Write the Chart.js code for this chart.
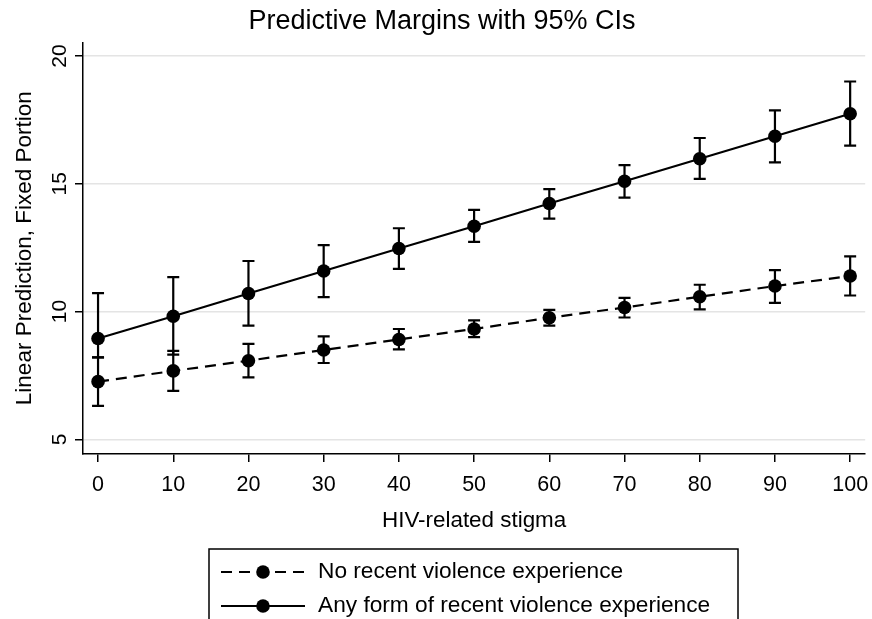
<!DOCTYPE html>
<html>
<head>
<meta charset="utf-8">
<script src="https://cdn.jsdelivr.net/npm/chart.js@4.4.1/dist/chart.umd.min.js"></script>
<style>
  html, body { margin: 0; padding: 0; background: #fff; }
</style>
</head>
<body>
<canvas id="marginsChart" width="872" height="619"></canvas>
<script>
const stigma = [0, 10, 20, 30, 40, 50, 60, 70, 80, 90, 100];
const xTicks = [0, 10, 20, 30, 40, 50, 60, 70, 80, 90, 100];
const yTicks = [5, 10, 15, 20];

// no recent violence
const noViolence   = [7.26, 7.68, 8.08, 8.50, 8.91, 9.32, 9.76, 10.16, 10.58, 11.00, 11.39];
const noViolenceLo = [6.31, 6.90, 7.43, 7.99, 8.52, 9.00, 9.45, 9.77, 10.09, 10.34, 10.63];
const noViolenceHi = [8.21, 8.46, 8.74, 9.03, 9.32, 9.66, 10.07, 10.54, 11.05, 11.62, 12.16];

// any form of recent violence
const anyViolence   = [8.95, 9.82, 10.71, 11.59, 12.47, 13.34, 14.23, 15.10, 15.98, 16.86, 17.74];
const anyViolenceLo = [8.21, 8.32, 9.45, 10.57, 11.67, 12.73, 13.64, 14.46, 15.19, 15.84, 16.49];
const anyViolenceHi = [10.72, 11.35, 11.98, 12.60, 13.26, 13.98, 14.79, 15.73, 16.79, 17.87, 19.00];

const FONT = "'Liberation Sans', Arial, Helvetica, sans-serif";

const toPoints = (ys) => stigma.map((x, i) => ({ x: x, y: ys[i] }));

// error bars with caps, drawn through the scales
const errorBars = {
    id: 'errorBars',
    afterDatasetsDraw(chart) {
        const { ctx, scales: { x, y } } = chart;
        ctx.save();
        ctx.strokeStyle = '#000';
        ctx.lineWidth = 2.2;
        chart.data.datasets.forEach(ds => {
            stigma.forEach((v, i) => {
                const px = x.getPixelForValue(v);
                const lo = y.getPixelForValue(ds.errLo[i]);
                const hi = y.getPixelForValue(ds.errHi[i]);
                ctx.beginPath();
                ctx.moveTo(px, lo); ctx.lineTo(px, hi);
                ctx.moveTo(px - 6, lo); ctx.lineTo(px + 6, lo);
                ctx.moveTo(px - 6, hi); ctx.lineTo(px + 6, hi);
                ctx.stroke();
            });
        });
        ctx.restore();
    }
};

// boxed legend under the x title, stata style
const boxLegend = {
    id: 'boxLegend',
    afterDraw(chart) {
        const ctx = chart.ctx;
        ctx.save();
        ctx.strokeStyle = '#000';
        ctx.lineWidth = 1.5;
        ctx.strokeRect(209, 549, 529, 90);
        const rows = [572, 606];
        chart.data.datasets.forEach((ds, i) => {
            const yy = rows[i];
            ctx.beginPath();
            ctx.setLineDash(ds.borderDash || []);
            ctx.lineWidth = 2.2;
            ctx.moveTo(221, yy); ctx.lineTo(305, yy);
            ctx.stroke();
            ctx.setLineDash([]);
            ctx.beginPath();
            ctx.fillStyle = '#000';
            ctx.arc(263, yy, 6.8, 0, Math.PI * 2);
            ctx.fill();
            ctx.font = '22.7px ' + FONT;
            ctx.textBaseline = 'middle';
            ctx.textAlign = 'left';
            ctx.fillText(ds.label, 318, yy);
        });
        ctx.restore();
    }
};

const ctx = document.getElementById('marginsChart').getContext('2d');

new Chart(ctx, {
    type: 'line',
    data: {
        datasets: [{
            label: 'No recent violence experience',
            data: toPoints(noViolence),
            errLo: noViolenceLo,
            errHi: noViolenceHi,
            borderColor: '#000',
            borderWidth: 2.2,
            borderDash: [11, 7],
            pointRadius: 6.8,
            pointBackgroundColor: '#000',
            pointBorderWidth: 0,
            tension: 0
        }, {
            label: 'Any form of recent violence experience',
            data: toPoints(anyViolence),
            errLo: anyViolenceLo,
            errHi: anyViolenceHi,
            borderColor: '#000',
            borderWidth: 2.2,
            pointRadius: 6.8,
            pointBackgroundColor: '#000',
            pointBorderWidth: 0,
            tension: 0
        }]
    },
    options: {
        responsive: false,
        animation: false,
        layout: { padding: { left: 17, right: 5, top: 0, bottom: 75 } },
        plugins: {
            legend: { display: false },
            tooltip: { enabled: false },
            title: {
                display: true,
                text: 'Predictive Margins with 95% CIs',
                color: '#000',
                font: { family: FONT, size: 27, weight: 'normal' },
                padding: { top: 5, bottom: 5 }
            }
        },
        scales: {
            x: {
                type: 'linear',
                min: -2,
                max: 102,
                afterBuildTicks: (s) => { s.ticks = xTicks.map(v => ({ value: v })); },
                afterFit: (s) => { s.height = 90; s.paddingLeft = 0; s.paddingRight = 0; },
                border: { color: '#000', width: 1.5 },
                grid: { drawOnChartArea: false, tickColor: '#000', tickLength: 8, lineWidth: 1.5 },
                ticks: { color: '#000', padding: 10, maxRotation: 0, font: { family: FONT, size: 21.5 } },
                title: {
                    display: true,
                    text: 'HIV-related stigma',
                    color: '#000',
                    font: { family: FONT, size: 22.4 },
                    padding: { top: 0, bottom: 10 }
                }
            },
            y: {
                min: 4.43,
                max: 20.53,
                afterBuildTicks: (s) => { s.ticks = yTicks.map(v => ({ value: v })); },
                afterFit: (s) => { s.width = 66; s.paddingTop = 0; s.paddingBottom = 0; },
                border: { color: '#000', width: 1.5 },
                grid: { color: '#e4e4e4', lineWidth: 1.5, tickColor: '#000', tickLength: 8 },
                ticks: {
                    color: '#000',
                    padding: 3,
                    minRotation: 90,
                    maxRotation: 90,
                    crossAlign: 'center',
                    font: { family: FONT, size: 21 }
                },
                title: {
                    display: true,
                    text: 'Linear Prediction, Fixed Portion',
                    color: '#000',
                    font: { family: FONT, size: 22.5 },
                    padding: { top: -6, bottom: 0 }
                }
            }
        }
    },
    plugins: [errorBars, boxLegend]
});
</script>
</body>
</html>
